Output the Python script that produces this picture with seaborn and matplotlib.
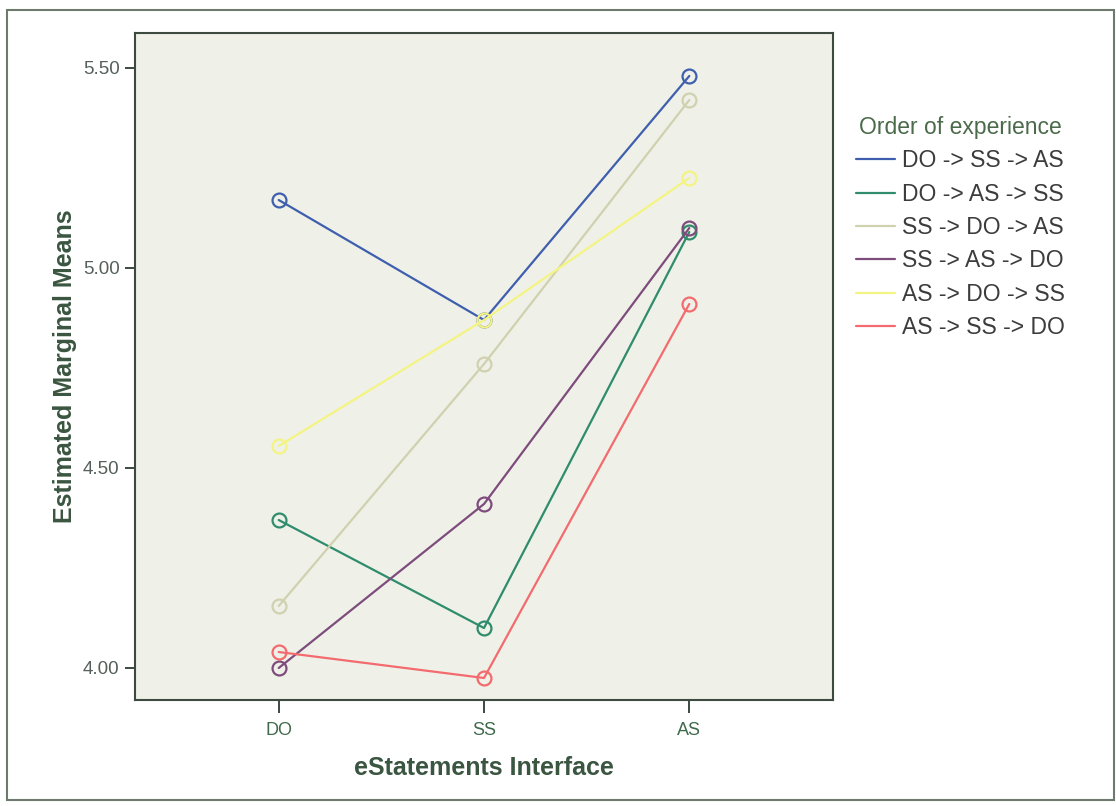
import matplotlib
matplotlib.use("Agg")
import matplotlib.pyplot as plt
import matplotlib.patches as mpatches
import seaborn as sns
import pandas as pd

# Estimated marginal means by interface, one series per order of experience
interfaces = ["DO", "SS", "AS"]
orders = [
    "DO -> SS -> AS",
    "DO -> AS -> SS",
    "SS -> DO -> AS",
    "SS -> AS -> DO",
    "AS -> DO -> SS",
    "AS -> SS -> DO",
]
do_ss_as = [5.17, 4.87, 5.48]
do_as_ss = [4.37, 4.10, 5.09]
ss_do_as = [4.155, 4.76, 5.42]
ss_as_do = [4.00, 4.41, 5.10]
as_do_ss = [4.555, 4.87, 5.225]
as_ss_do = [4.04, 3.975, 4.91]
series = [do_ss_as, do_as_ss, ss_do_as, ss_as_do, as_do_ss, as_ss_do]

colors = ["#3f5fae", "#2f8c6c", "#d0d1ae", "#7e4c7c", "#f4f482", "#f36b6e"]

rows = []
for name, vals in zip(orders, series):
    for i, (iface, v) in enumerate(zip(interfaces, vals)):
        rows.append({"order": name, "pos": i, "interface": iface, "mean": v})
df = pd.DataFrame(rows)

sns.set_theme(style="white")
plt.rcParams["font.family"] = ["Liberation Sans", "DejaVu Sans"]

fig = plt.figure(figsize=(11.16, 8.06), dpi=100)
fig.patch.set_facecolor("white")
# outer chart frame
fig.patches.append(mpatches.Rectangle((7 / 1116, 6 / 806), 1107 / 1116, 790 / 806,
                                      transform=fig.transFigure, fill=False,
                                      edgecolor="#6d7a6d", linewidth=1.5))

ax = fig.add_axes([135 / 1116, 106 / 806, 698 / 1116, 667 / 806])
ax.set_facecolor("#eff1e8")

sns.lineplot(data=df, x="pos", y="mean", hue="order", hue_order=orders,
             palette=colors, marker="o", markersize=10, markerfacecolor="none",
             markeredgewidth=1.6, linewidth=1.6, ax=ax, legend=False, sort=False)
for line in ax.lines:
    line.set_markeredgecolor(line.get_color())

ax.set_xlim(-0.70, 2.70)
ax.set_ylim(3.92, 5.5875)
ax.set_xticks(range(len(interfaces)))
ax.set_xticklabels(interfaces)
ax.set_yticks([4.0, 4.5, 5.0, 5.5])
ax.set_yticklabels(["4.00", "4.50", "5.00", "5.50"])

for side in ["left", "bottom", "top", "right"]:
    ax.spines[side].set_color("#3c4a40")
    ax.spines[side].set_linewidth(1.5)

ax.tick_params(axis="y", direction="out", length=7, width=1.4, color="#3c4a40",
               labelsize=13.5, labelcolor="#55605a", pad=4)
ax.tick_params(axis="x", direction="out", length=9, width=1.4, color="#3c4a40",
               labelsize=13, labelcolor="#3f6a4c", pad=7)
ax.tick_params(left=True, bottom=True)

ax.set_xlabel("eStatements Interface", fontsize=18, fontweight="bold",
              color="#3a5540", labelpad=12)
ax.set_ylabel("Estimated Marginal Means", fontsize=18, fontweight="bold",
              color="#3a5540", labelpad=4)

handles = [plt.Line2D([], [], color=c, linewidth=1.6) for c in colors]
leg = fig.legend(handles, orders, title="Order of experience",
                 loc="upper left", bbox_to_anchor=(840 / 1116, 1 - 100 / 806),
                 frameon=False, fontsize=16.5, title_fontsize=16.5,
                 handlelength=1.7, handletextpad=0.3, labelspacing=0.45,
                 borderpad=0.2)
leg.get_title().set_color("#4a6a4a")
for t in leg.get_texts():
    t.set_color("#3c3c3c")

fig.savefig("out.png", dpi=100)
